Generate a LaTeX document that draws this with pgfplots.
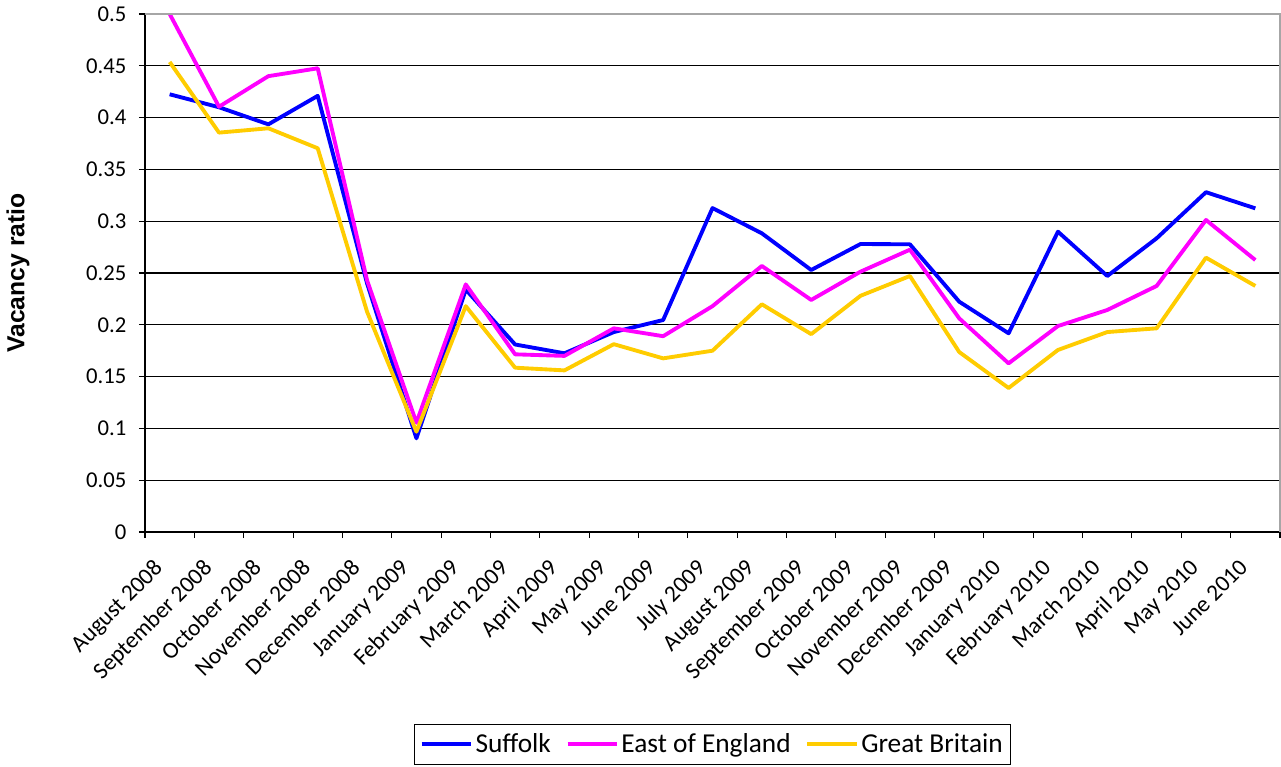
\documentclass[border=0pt]{standalone}
\usepackage{fontspec}
\setmainfont{Carlito}
\newfontfamily\labelfont{Liberation Sans}
\usepackage{pgfplots}
\pgfplotsset{compat=1.18}

\definecolor{suffolk}{RGB}{0,0,255}
\definecolor{eastengland}{RGB}{255,0,255}
\definecolor{britain}{RGB}{255,204,0}

\begin{document}
\begin{tikzpicture}
  \begin{axis}[
      name=ax, at={(0,0)}, anchor=south west,
      scale only axis, width=851.25pt, height=388.5pt,
      xmin=-0.5, xmax=22.5, ymin=0, ymax=0.5,
      axis lines=left, axis line style={-, black, line width=0.8pt},
      tick align=outside,
      xtick={0,...,22},
      xticklabels={August 2008,September 2008,October 2008,November 2008,December 2008,
        January 2009,February 2009,March 2009,April 2009,May 2009,June 2009,July 2009,
        August 2009,September 2009,October 2009,November 2009,December 2009,
        January 2010,February 2010,March 2010,April 2010,May 2010,June 2010},
      major x tick style={draw=none},
      minor xtick={-0.5,0.5,...,22.5},
      minor tick length=4.5pt,
      minor x tick style={black, line width=0.8pt},
      ytick={0,0.05,0.1,0.15,0.2,0.25,0.3,0.35,0.4,0.45,0.5},
      yticklabels={0,0.05,0.1,0.15,0.2,0.25,0.3,0.35,0.4,0.45,0.5},
      major tick length=4.5pt,
      major y tick style={black, line width=0.8pt},
      ymajorgrids, grid style={black, line width=0.8pt},
      yticklabel style={font=\fontsize{17}{20}\selectfont, xshift=-6pt},
      xticklabel style={font=\fontsize{17.5}{20}\selectfont,
        xshift=-13pt, yshift=-12pt, rotate=45, anchor=north east, inner sep=2pt},
      ylabel={Vacancy ratio},
      every axis y label/.style={at={(axis description cs:-0.1118,0.5)},
        rotate=90, anchor=center, font=\labelfont\bfseries\fontsize{18.5}{22}\selectfont},
      legend style={at={(0.5,-0.3707)}, anchor=north, legend columns=-1,
        draw=black, line width=0.8pt, font=\fontsize{20.5}{24}\selectfont,
        inner xsep=4pt, inner ysep=5pt,
        /tikz/every even column/.append style={column sep=9pt}},
      legend image code/.code={\draw[#1, line width=2.9pt] (0pt,0pt) -- (37pt,0pt);},
      every axis plot/.append style={line width=2.9pt, line join=round, mark=none},
    ]
    \addplot[suffolk] coordinates {(0,0.4225) (1,0.410) (2,0.3935) (3,0.421) (4,0.240)
      (5,0.0904) (6,0.234) (7,0.181) (8,0.1725) (9,0.193) (10,0.2046) (11,0.3127)
      (12,0.2883) (13,0.2529) (14,0.278) (15,0.2777) (16,0.2223) (17,0.1918)
      (18,0.2899) (19,0.2471) (20,0.2835) (21,0.328) (22,0.3124)};
    \addplot[eastengland] coordinates {(0,0.500) (1,0.4105) (2,0.440) (3,0.4476) (4,0.243)
      (5,0.1055) (6,0.239) (7,0.1715) (8,0.170) (9,0.1966) (10,0.189) (11,0.218)
      (12,0.2568) (13,0.224) (14,0.2513) (15,0.2725) (16,0.2062) (17,0.1628)
      (18,0.1988) (19,0.2143) (20,0.2375) (21,0.3012) (22,0.2625)};
    \addplot[britain] coordinates {(0,0.4537) (1,0.3855) (2,0.3897) (3,0.3704) (4,0.2126)
      (5,0.0968) (6,0.218) (7,0.1586) (8,0.156) (9,0.1813) (10,0.1676) (11,0.175)
      (12,0.2198) (13,0.191) (14,0.228) (15,0.2471) (16,0.1737) (17,0.139)
      (18,0.1757) (19,0.193) (20,0.1966) (21,0.2648) (22,0.2375)};
    \legend{Suffolk, East of England, Great Britain}
  \end{axis}
  % grey frame on top and right of the plot area
  \draw[gray!70, line width=0.9pt] (ax.north west) -- (ax.north east) -- (ax.south east);
  \pgfresetboundingbox
  \path[use as bounding box] ([xshift=-108.75pt,yshift=-176.25pt]ax.south west)
    rectangle ([xshift=0.75pt,yshift=10.5pt]ax.north east);
\end{tikzpicture}
\end{document}
